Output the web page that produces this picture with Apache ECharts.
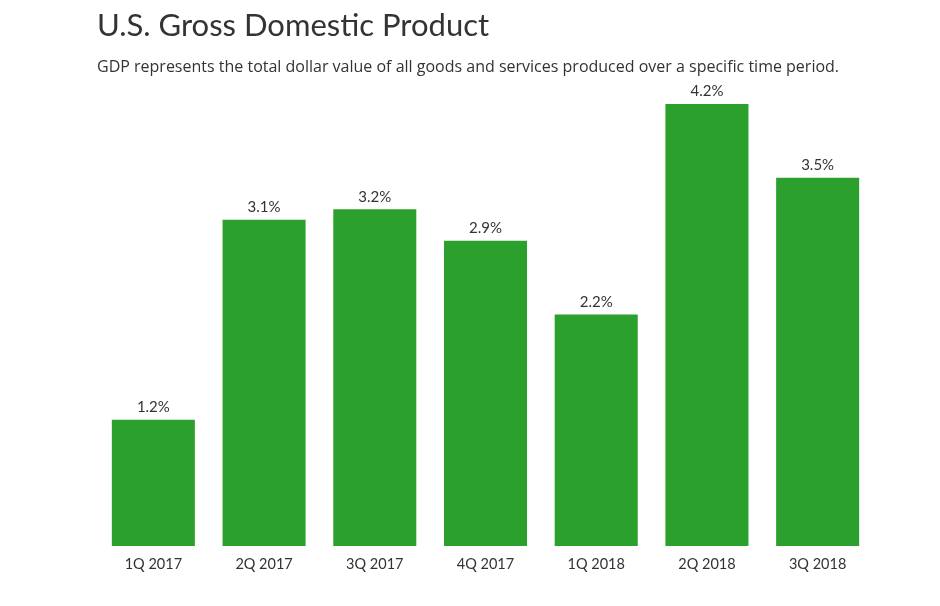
<!DOCTYPE html>
<html><head><meta charset="utf-8">
<script src="https://cdn.jsdelivr.net/npm/echarts@6/dist/echarts.min.js"></script>
<style>html,body{margin:0;padding:0;background:#fff}#c{width:940px;height:606px}</style>
</head><body><div id="c"></div>
<script>
const categories = ['1Q 2017','2Q 2017','3Q 2017','4Q 2017','1Q 2018','2Q 2018','3Q 2018'];
const gdpGrowth = [1.2, 3.1, 3.2, 2.9, 2.2, 4.2, 3.5];
const chart = echarts.init(document.getElementById('c'), null, {renderer:'canvas'});
chart.setOption({
  animation:false,
  backgroundColor:'#fff',
  title:{
    text:'U.S. Gross Domestic Product',
    subtext:'GDP represents the total dollar value of all goods and services produced over a specific time period.',
    left:92, top:5, itemGap:18,
    textStyle:{fontFamily:'Lato', fontSize:31, fontWeight:'normal', color:'#333'},
    subtextStyle:{fontFamily:'Open Sans', fontSize:16, color:'#333'}
  },
  grid:{left:98, right:67, top:104, bottom:60},
  xAxis:{
    type:'category', data:categories,
    axisLine:{show:false}, axisTick:{show:false},
    axisLabel:{fontFamily:'Lato', fontSize:14.5, color:'#333', margin:11}
  },
  yAxis:{type:'value', min:0, max:4.2, show:false, splitLine:{show:false}},
  series:[{
    type:'bar', data:gdpGrowth, barCategoryGap:'25%',
    itemStyle:{color:'#2ca02c'},
    label:{show:true, position:'top', distance:5, formatter:p=>p.value.toFixed(1)+'%',
      fontFamily:'Lato', fontSize:15, color:'#333'}
  }]
});
</script></body></html>
